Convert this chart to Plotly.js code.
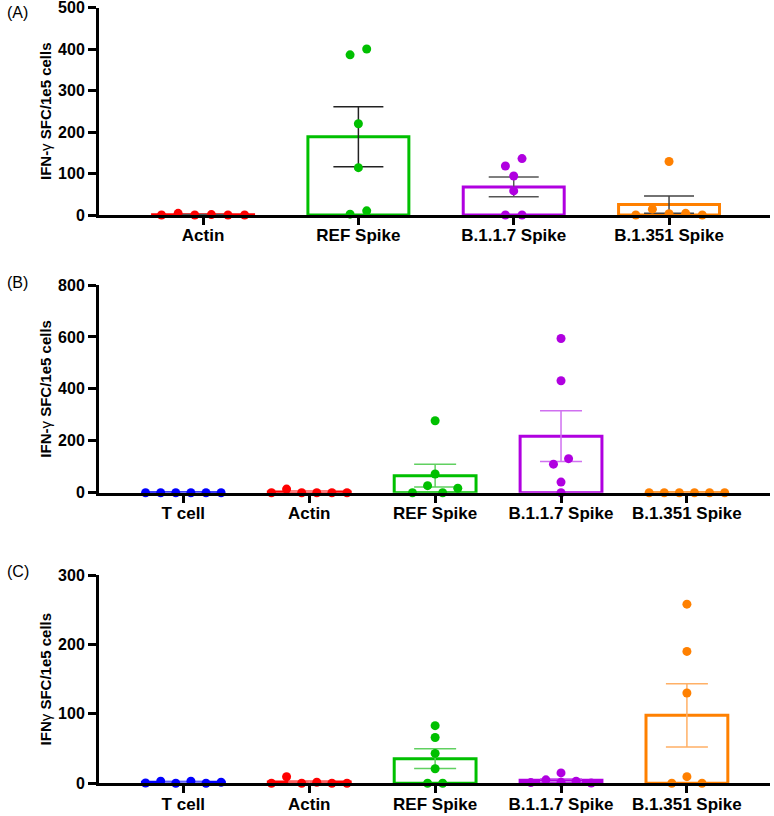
<!DOCTYPE html>
<html>
<head>
<meta charset="utf-8">
<script src="https://cdn.plot.ly/plotly-3.0.1.min.js"></script>
<style>html,body{margin:0;padding:0;background:#fff;}#chart{width:774px;height:816px;}</style>
</head>
<body>
<div id="chart"></div>
<script>
// ---------- DATA ----------
const categoriesA = ['Actin', 'REF Spike', 'B.1.1.7 Spike', 'B.1.351 Spike'];
const A_actin = [0, 4, 0, 1, 0, 0];
const A_ref = [386, 400, 220, 114, 2, 10];
const A_b117 = [118, 136, 94, 58, 0, 0];
const A_b1351 = [129, 0, 14, 3, 4, 0];
const ticksA = [0, 100, 200, 300, 400, 500];

const categoriesB = ['T cell', 'Actin', 'REF Spike', 'B.1.1.7 Spike', 'B.1.351 Spike'];
const B_tcell = [0, 0, 0, 0, 0, 0];
const B_actin = [0, 14, 0, 0, 0, 0];
const B_ref = [0, 27, 72, 0, 17, 277];
const B_b117 = [594, 431, 110, 131, 41, 0];
const B_b1351 = [0, 0, 0, 0, 0, 0];
const ticksB = [0, 200, 400, 600, 800];

const categoriesC = ['T cell', 'Actin', 'REF Spike', 'B.1.1.7 Spike', 'B.1.351 Spike'];
const C_tcell = [0.5, 3, 0, 3, 0, 1.5];
const C_actin = [0, 9.5, 0, 1.5, 0, 0];
const C_ref = [83, 66, 43, 21, 0, 0];
const C_b117 = [1, 5, 1.5, 15, 3, 0.5];
const C_b1351 = [258, 190, 130, 0, 9.6, 0];
const ticksC = [0, 100, 200, 300];

const yTitleA = 'IFN-<span style="font-weight:normal">γ</span> SFC/1e5 cells';
const yTitleB = 'IFN-<span style="font-weight:normal">γ</span> SFC/1e5 cells';
const yTitleC = 'IFN<span style="font-weight:normal">γ</span> SFC/1e5 cells';

// ---------- STYLE ----------
const COL = {blue:'#0000ff', red:'#ff0000', green:'#00c000', purple:'#b000e0', orange:'#ff8000'};
const LIGHT = {blue:'#7f7fff', red:'#ff8080', green:'#60d060', purple:'#d070f0', orange:'#ffb066'};
const FONT = '"Liberation Sans", Arial, sans-serif';

const W = 774, H = 816, MT = 7, MB = 0;
const panels = [
  {label:'(A)', cats:categoriesA, groups:[A_actin, A_ref, A_b117, A_b1351], ticks:ticksA,
   colors:['red','green','purple','orange'],
   errCol:['#555555','#222222','#555555','#444444'],
   yMax:500, top:7.5, bottom:215, xr:[-0.67, 3.65], spacing:0.107, capW:25,
   title:yTitleA, labelY:12},
  {label:'(B)', cats:categoriesB, groups:[B_tcell, B_actin, B_ref, B_b117, B_b1351], ticks:ticksB,
   colors:['blue','red','green','purple','orange'], errCol:null,
   yMax:800, top:285, bottom:492.7, xr:[-0.67, 4.66], spacing:0.12, capW:21,
   title:yTitleB, labelY:283},
  {label:'(C)', cats:categoriesC, groups:[C_tcell, C_actin, C_ref, C_b117, C_b1351], ticks:ticksC,
   colors:['blue','red','green','purple','orange'], errCol:null,
   yMax:300, top:575, bottom:783.3, xr:[-0.67, 4.66], spacing:0.12, capW:21,
   title:yTitleC, labelY:571}
];

function mean(a){ return a.reduce((s,v)=>s+v,0)/a.length; }
function sem(a){ const m=mean(a); const v=a.reduce((s,x)=>s+(x-m)*(x-m),0)/(a.length-1); return Math.sqrt(v/a.length); }

// simple row-based swarm: points within a few px vertically are spread side by side
function swarm(vals, pxPerUnit, spacing){
  const idx = vals.map((v,i)=>i).sort((a,b)=>vals[a]-vals[b]);
  const rows = []; let cur = null;
  idx.forEach(i=>{
    if (cur && (vals[i]-vals[cur[0]])*pxPerUnit < 8) cur.push(i);
    else { cur=[i]; rows.push(cur); }
  });
  const off = new Array(vals.length).fill(0);
  rows.forEach(r=>{ r.sort((a,b)=>a-b); const k=r.length; r.forEach((i,j)=>{ off[i]=(j-(k-1)/2)*spacing; }); });
  return off;
}

const plotH = H - MT - MB;
const fy = px => 1 - (px - MT)/plotH;

const traces = [];
const layout = {
  width:W, height:H, showlegend:false,
  margin:{l:99, r:4, t:MT, b:MB},
  paper_bgcolor:'#fff', plot_bgcolor:'rgba(0,0,0,0)',
  font:{family:FONT, color:'#000'},
  annotations:[], bargap:0
};

panels.forEach((p, pi)=>{
  const n = pi+1;
  const xa = 'x'+(n===1?'':n), ya = 'y'+(n===1?'':n);
  const xk = 'xaxis'+(n===1?'':n), yk = 'yaxis'+(n===1?'':n);
  const pxPerUnit = (p.bottom - p.top)/p.yMax;
  const xs = p.cats.map((c,i)=>i);
  const means = p.groups.map(mean);
  const sems = p.groups.map(sem);
  p.groups.forEach((g,i)=>{
    const c = p.colors[i];
    traces.push({
      type:'bar', x:[xs[i]], y:[means[i]], xaxis:xa, yaxis:ya, width:0.65,
      marker:{color:'rgba(0,0,0,0)', line:{color:COL[c], width:3}},
      error_y:{type:'data', array:[sems[i]], visible:true,
               color: p.errCol ? p.errCol[i] : LIGHT[c], thickness:1.5, width:p.capW},
      hoverinfo:'skip', cliponaxis:false
    });
  });
  p.groups.forEach((g,i)=>{
    const c = p.colors[i];
    const off = swarm(g, pxPerUnit, p.spacing);
    traces.push({
      type:'scatter', mode:'markers', xaxis:xa, yaxis:ya,
      x:g.map((v,j)=>xs[i]+off[j]), y:g,
      marker:{color:COL[c], size:9, line:{width:0}},
      cliponaxis:false, hoverinfo:'skip'
    });
  });
  const yd = [Math.max(0, fy(p.bottom)), Math.min(1, fy(p.top))];
  const tv = p.ticks.map(t => t === p.yMax ? t - p.yMax*1e-4 : t);
  layout[xk] = {
    domain:[0,1], anchor:ya, range:p.xr, fixedrange:true,
    tickmode:'array', tickvals:xs, ticktext:p.cats,
    ticks:'outside', ticklen:7, tickwidth:3, tickcolor:'#000',
    showline:true, linewidth:3, linecolor:'#000', showgrid:false, zeroline:false,
    tickfont:{family:FONT, size:17, weight:'bold', color:'#000'}, automargin:false,
    ticklabelstandoff:-4, ticklabeloverflow:'allow'
  };
  layout[yk] = {
    domain:yd, anchor:xa, range:[0, p.yMax], fixedrange:true,
    tickmode:'array', tickvals:tv, ticktext:p.ticks.map(String),
    ticks:'outside', ticklen:8, tickwidth:3, tickcolor:'#000',
    showline:true, linewidth:3, linecolor:'#000', showgrid:false, zeroline:false,
    tickfont:{family:FONT, size:16, weight:'bold', color:'#000'}, automargin:false,
    ticklabeloverflow:'allow',
    title:{text:p.title, font:{family:FONT, size:15, weight:'bold', color:'#000'}, standoff:3}
  };
  layout.annotations.push({
    xref:'paper', yref:'paper', x:(5-99)/671, y:fy(p.labelY), xanchor:'left', yanchor:'middle',
    text:p.label, showarrow:false, font:{family:FONT, size:16, color:'#000'}
  });
});

Plotly.newPlot('chart', traces, layout, {staticPlot:true, displayModeBar:false});
</script>
</body>
</html>
